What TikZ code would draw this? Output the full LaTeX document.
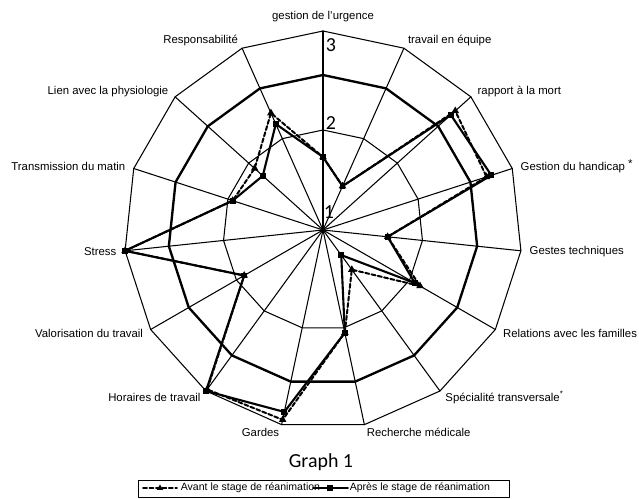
\documentclass[tikz,border=0pt]{standalone}
\usepackage{fontspec}
\setmainfont{Liberation Sans}
\newfontfamily\graphfont{Carlito}
\usetikzlibrary{shapes.geometric}
\begin{document}
\begin{tikzpicture}[x=0.03cm,y=0.03cm,line cap=round,line join=round,
    thin grid/.style={line width=0.9pt},
    avant/.style={line width=1.7pt,dash pattern=on 3.5pt off 2pt},
    apres/.style={line width=1.8pt},
    tri/.style={regular polygon,regular polygon sides=3,fill,inner sep=0pt,minimum size=7.5pt},
    sq/.style={rectangle,fill,inner sep=0pt,minimum size=5pt},
    lbl/.style={font=\fontsize{9.7}{11}\selectfont,inner sep=0.5pt},
    big/.style={font=\graphfont\fontsize{17}{17}\selectfont,inner sep=0pt}]
  \useasboundingbox (-323,-268) rectangle (316,230);
  \coordinate (O) at (0,0);

  % grid
  \foreach \k in {0,...,14}
    \draw[thin grid] (O) -- (90-24*\k:199);
  \foreach \r in {100,199}
    \draw[thin grid] (90:\r) \foreach \k in {1,...,14} {-- (90-24*\k:\r)} -- cycle;
  \draw[line width=2pt] (90:155) \foreach \k in {1,...,14} {-- (90-24*\k:155)} -- cycle;

  \node[big] (v1) at (6,18) {1};
  \node[big] (v2) at (8,107) {2};
  \node[big] (v3) at (8,185) {3};

  % the two series
  \foreach \r [count=\k from 0] in {73,48,178,172,65,112,49,105,194,197,91,199,95,92,128}
    \coordinate (a\k) at (90-24*\k:\r);
  \foreach \r [count=\k from 0] in {73,48,172,177,65,106,31,105,186,199,91,199,95,81,116}
    \coordinate (b\k) at (90-24*\k:\r);
  \draw[avant] (a0) \foreach \k in {1,...,14} {-- (a\k)} -- cycle;
  \draw[apres] (b0) \foreach \k in {1,...,14} {-- (b\k)} -- cycle;
  \foreach \k in {0,...,14} {
    \node[tri] (ma\k) at (a\k) {};
    \node[sq] (mb\k) at (b\k) {};
  }

  % axis labels
  \node[lbl,anchor=south] (l0) at (90:207) {gestion de l'urgence};
  \foreach \k/\txt in {1/travail en équipe,2/rapport à la mort,
      3/Gestion du handicap \raisebox{2.5pt}{*},4/Gestes techniques,
      5/Relations avec les familles,6/Spécialité transversale\textsuperscript{*},
      7/Recherche médicale}
    \node[lbl,anchor=west] (l\k) at (90-24*\k:207) {\txt};
  \foreach \k/\txt in {8/Gardes,9/Horaires de travail,10/Valorisation du travail,
      11/Stress,12/Transmission du matin,13/Lien avec la physiologie,
      14/Responsabilité}
    \node[lbl,anchor=east] (l\k) at (90-24*\k:207) {\txt};

  \node[big] (title) at (-2,-232) {Graph 1};

  % legend
  \coordinate (lg1) at (-185,-250);
  \coordinate (lg2) at (186,-267);
  \draw[line width=0.7pt] (lg1) rectangle (lg2);
  \coordinate (s1) at (-180,-258);
  \coordinate (s2) at (-146,-258);
  \draw[avant,line width=1.3pt] (s1) -- (s2);
  \node[tri,minimum size=6pt] (k1) at (-163,-258) {};
  \node[lbl,font=\fontsize{9}{10}\selectfont,anchor=west] (t1) at (-143,-258) {Avant le stage de réanimation};
  \coordinate (s3) at (-10,-258);
  \coordinate (s4) at (25,-258);
  \draw[apres,line width=1.3pt] (s3) -- (s4);
  \node[sq] (k2) at (7,-258) {};
  \node[lbl,font=\fontsize{9}{10}\selectfont,anchor=west] (t2) at (26,-258) {Après le stage de réanimation};
\end{tikzpicture}
\end{document}
